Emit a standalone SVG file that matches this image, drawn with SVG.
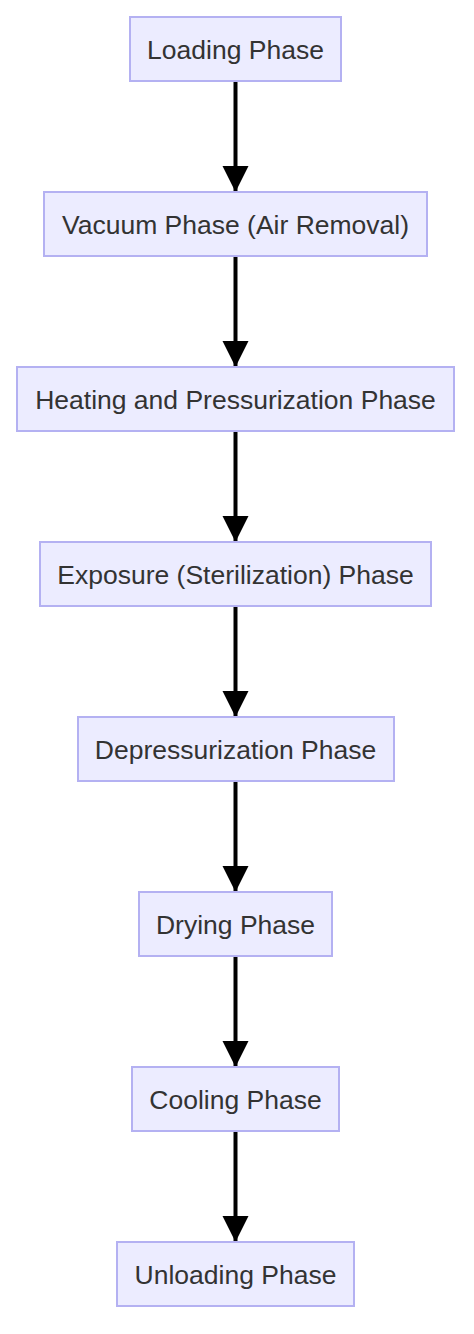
<svg xmlns="http://www.w3.org/2000/svg" width="474" height="1334" viewBox="0 0 474 1334">
<style>
.node rect{fill:#ECECFF;stroke:#B4B1F2;stroke-width:2}
.node text{font-family:"Liberation Sans",Arial,sans-serif;font-size:26.5px;fill:#333333;text-anchor:middle;dominant-baseline:central}
.edge{stroke:#000;stroke-width:4;fill:none}
</style>
<defs>
<marker id="arr" markerUnits="userSpaceOnUse" markerWidth="28" markerHeight="28" refX="26" refY="13" orient="auto">
<path d="M0,0 L26,13 L0,26 Z" fill="#000"/>
</marker>
</defs>
<rect width="474" height="1334" fill="#ffffff"/>
<g id="connectors">
<line class="edge" x1="235.5" y1="82" x2="235.5" y2="192" marker-end="url(#arr)"/>
<line class="edge" x1="235.5" y1="257" x2="235.5" y2="367" marker-end="url(#arr)"/>
<line class="edge" x1="235.5" y1="432" x2="235.5" y2="542" marker-end="url(#arr)"/>
<line class="edge" x1="235.5" y1="607" x2="235.5" y2="717" marker-end="url(#arr)"/>
<line class="edge" x1="235.5" y1="782" x2="235.5" y2="892" marker-end="url(#arr)"/>
<line class="edge" x1="235.5" y1="957" x2="235.5" y2="1067" marker-end="url(#arr)"/>
<line class="edge" x1="235.5" y1="1132" x2="235.5" y2="1242" marker-end="url(#arr)"/>
</g>
<g id="n1" class="node"><rect x="130" y="17" width="211" height="64"/><text x="235.5" y="49.5">Loading Phase</text></g>
<g id="n2" class="node"><rect x="44" y="192" width="383" height="64"/><text x="235.5" y="224.5">Vacuum Phase (Air Removal)</text></g>
<g id="n3" class="node"><rect x="17" y="367" width="437" height="64"/><text x="235.5" y="399.5">Heating and Pressurization Phase</text></g>
<g id="n4" class="node"><rect x="40" y="542" width="391" height="64"/><text x="235.5" y="574.5">Exposure (Sterilization) Phase</text></g>
<g id="n5" class="node"><rect x="78" y="717" width="316" height="64"/><text x="235.5" y="749.5">Depressurization Phase</text></g>
<g id="n6" class="node"><rect x="139" y="892" width="193" height="64"/><text x="235.5" y="924.5">Drying Phase</text></g>
<g id="n7" class="node"><rect x="132" y="1067" width="207" height="64"/><text x="235.5" y="1099.5">Cooling Phase</text></g>
<g id="n8" class="node"><rect x="117" y="1242" width="237" height="64"/><text x="235.5" y="1274.5">Unloading Phase</text></g>
</svg>
